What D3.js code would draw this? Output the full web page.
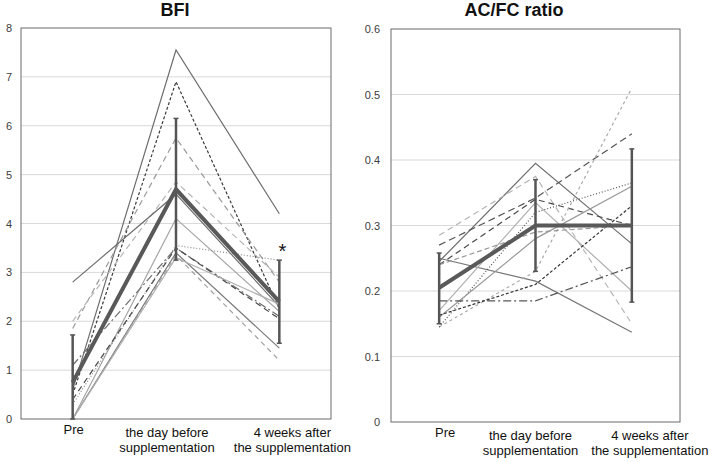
<!DOCTYPE html>
<html>
<head>
<meta charset="utf-8">
<script src="https://cdn.jsdelivr.net/npm/d3@7"></script>
<style>
  body { margin: 0; background: #fff; }
  text { font-family: "Liberation Sans", Arial, sans-serif; }
</style>
</head>
<body>
<div id="chart"></div>
<script>
// categories (x axis)
var categories = ["Pre", "the day before|supplementation", "4 weeks after|the supplementation"];

// BFI: one row per subject, values at Pre / day before / 4 weeks
var bfiSubjects = [
  [0.6, 7.55, 4.2],
  [0.5, 6.9, 2.25],
  [1.85, 5.75, 2.8],
  [2.0, 4.85, 2.9],
  [2.8, 4.6, 2.3],
  [0, 4.1, 2.2],
  [0.3, 3.55, 3.25],
  [1.1, 3.5, 2.1],
  [0, 3.4, 1.45],
  [0, 3.35, 1.2],
  [0.4, 3.5, 2.05],
  [0, 3.3, 2.35]
];
var bfiMean = [0.75, 4.7, 2.4];
var bfiLow = [0, 3.25, 1.55];
var bfiHigh = [1.72, 6.15, 3.25];
var bfiTicks = [0, 1, 2, 3, 4, 5, 6, 7, 8];

// AC/FC ratio
var acfcSubjects = [
  [0.245, 0.395, 0.272],
  [0.25, 0.215, 0.137],
  [0.285, 0.375, 0.15],
  [0.24, 0.34, 0.30],
  [0.27, 0.342, 0.44],
  [0.145, 0.23, 0.51],
  [0.145, 0.32, 0.365],
  [0.17, 0.335, 0.20],
  [0.16, 0.28, 0.36],
  [0.185, 0.185, 0.237],
  [0.163, 0.21, 0.33],
  [0.24, 0.29, 0.30]
];
var acfcMean = [0.205, 0.30, 0.30];
var acfcLow = [0.15, 0.23, 0.183];
var acfcHigh = [0.258, 0.37, 0.417];
var acfcTicks = [0, 0.1, 0.2, 0.3, 0.4, 0.5, 0.6];

// line styles for the subject lines
var bfiStyles = [
  {c: "#6e6e6e", d: null},
  {c: "#3a3a3a", d: "3,2"},
  {c: "#9a9a9a", d: "6,4"},
  {c: "#b5b5b5", d: "6,4"},
  {c: "#6e6e6e", d: null},
  {c: "#a6a6a6", d: null},
  {c: "#8a8a8a", d: "1,2"},
  {c: "#6e6e6e", d: "8,3,2,3"},
  {c: "#7a7a7a", d: null},
  {c: "#a0a0a0", d: "5,4"},
  {c: "#4a4a4a", d: "6,4"},
  {c: "#b0b0b0", d: null}
];
var acfcStyles = [
  {c: "#6e6e6e", d: null},
  {c: "#777777", d: null},
  {c: "#b5b5b5", d: "6,4"},
  {c: "#4a4a4a", d: "6,4"},
  {c: "#555555", d: "7,4"},
  {c: "#aaaaaa", d: "3,3"},
  {c: "#555555", d: "1,2"},
  {c: "#b0b0b0", d: null},
  {c: "#999999", d: null},
  {c: "#555555", d: "8,3,2,3"},
  {c: "#333333", d: "3,2"},
  {c: "#999999", d: "5,3"}
];

var svg = d3.select("#chart").append("svg")
  .attr("width", 721)
  .attr("height", 462);

function drawPanel(opt) {
  var g = svg.append("g");

  var x = d3.scaleBand()
    .domain(categories)
    .range([opt.left, opt.right]);
  var y = d3.scaleLinear()
    .domain([0, opt.max])
    .range([opt.bottom, opt.top]);
  var cx = function(i) { return x(categories[i]) + x.bandwidth() / 2; };

  // gridlines
  g.selectAll(".grid")
    .data(opt.ticks.slice(1, -1))
    .enter().append("line")
      .attr("x1", opt.left).attr("x2", opt.right)
      .attr("y1", d => y(d)).attr("y2", d => y(d))
      .attr("stroke", "#d9d9d9");

  // frame
  g.append("rect")
    .attr("x", opt.left).attr("y", opt.top)
    .attr("width", opt.right - opt.left).attr("height", opt.bottom - opt.top)
    .attr("fill", "none")
    .attr("stroke", "#6a6a6a");

  // y tick labels
  var yAxis = d3.axisLeft(y).tickValues(opt.ticks).tickSize(0).tickPadding(opt.pad)
    .tickFormat(opt.fmt);
  var ya = g.append("g")
    .attr("transform", `translate(${opt.left},0)`)
    .call(yAxis);
  ya.select(".domain").remove();
  ya.selectAll("text")
    .style("font-size", "11px")
    .style("font-family", "'Liberation Sans', Arial, sans-serif")
    .attr("fill", "#404040");

  // x labels
  categories.forEach(function(c, i) {
    var parts = c.split("|");
    var t = g.append("text")
      .attr("text-anchor", "middle")
      .attr("font-size", "13px")
      .attr("fill", "#111")
      .attr("x", cx(i) + opt.labelShift[i])
      .attr("y", parts.length == 1 ? opt.bottom + 15 : opt.bottom + 18);
    parts.forEach(function(p, j) {
      t.append("tspan")
        .attr("x", cx(i) + opt.labelShift[i])
        .attr("dy", j == 0 ? 0 : 15)
        .text(p);
    });
  });

  var line = d3.line()
    .x((d, i) => cx(i))
    .y(d => y(d));

  // subject lines
  opt.subjects.forEach(function(s, k) {
    g.append("path")
      .datum(s)
      .attr("d", line)
      .attr("fill", "none")
      .attr("stroke", opt.styles[k].c)
      .attr("stroke-width", 1.2)
      .attr("stroke-dasharray", opt.styles[k].d);
  });

  // error bars
  opt.mean.forEach(function(m, i) {
    g.append("line")
      .attr("x1", cx(i)).attr("x2", cx(i))
      .attr("y1", y(opt.low[i])).attr("y2", y(opt.high[i]))
      .attr("stroke", "#555").attr("stroke-width", 2.5);
    [opt.low[i], opt.high[i]].forEach(function(v) {
      g.append("line")
        .attr("x1", cx(i) - 2.5).attr("x2", cx(i) + 2.5)
        .attr("y1", y(v)).attr("y2", y(v))
        .attr("stroke", "#555").attr("stroke-width", 1.5);
    });
  });

  // mean line
  g.append("path")
    .datum(opt.mean)
    .attr("d", line)
    .attr("fill", "none")
    .attr("stroke", "#595959")
    .attr("stroke-width", 4);

  // title
  svg.append("text")
    .attr("x", opt.titleX)
    .attr("y", 16)
    .attr("text-anchor", "middle")
    .attr("font-size", "18px")
    .attr("font-weight", "bold")
    .attr("fill", "#111")
    .text(opt.title);

  return {x: cx, y: y};
}

var left = drawPanel({
  left: 21, right: 331, top: 28, bottom: 419, max: 8,
  ticks: bfiTicks, fmt: d3.format("d"), pad: 9,
  subjects: bfiSubjects, styles: bfiStyles,
  mean: bfiMean, low: bfiLow, high: bfiHigh,
  labelShift: [1, -9, 13], title: "BFI", titleX: 175
});

drawPanel({
  left: 391, right: 680, top: 29, bottom: 422, max: 0.6,
  ticks: acfcTicks, fmt: d => d == 0 ? "0" : d3.format(".1f")(d), pad: 11,
  subjects: acfcSubjects, styles: acfcStyles,
  mean: acfcMean, low: acfcLow, high: acfcHigh,
  labelShift: [6, -5, 18], title: "AC/FC ratio", titleX: 514
});

// significance mark
svg.append("text")
  .attr("x", left.x(2) + 3)
  .attr("y", left.y(bfiHigh[2]) - 2)
  .attr("text-anchor", "middle")
  .attr("font-size", "20px")
  .attr("fill", "#111")
  .text("*");
</script>
</body>
</html>
